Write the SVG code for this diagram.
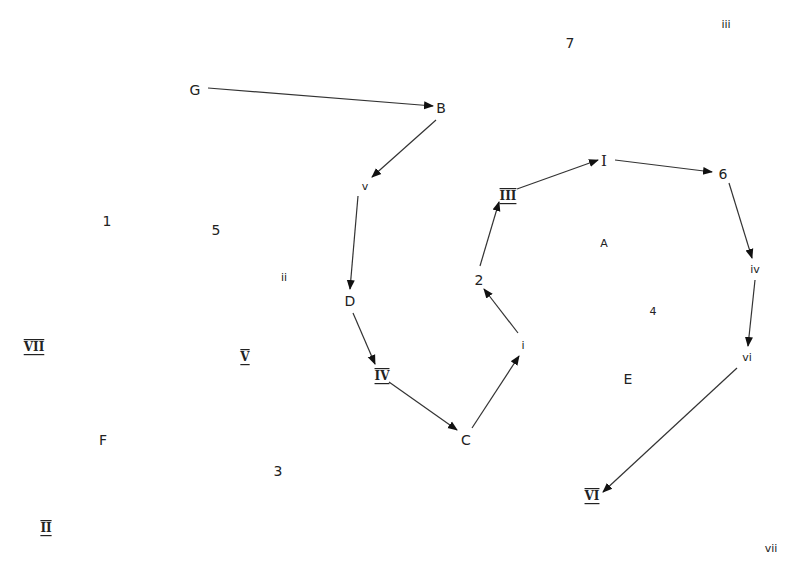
<svg xmlns="http://www.w3.org/2000/svg" width="792" height="569" viewBox="0 0 792 569">
<style>
text{font-family:"DejaVu Sans","Liberation Sans",sans-serif;font-size:14px;fill:#222;text-anchor:middle;dominant-baseline:central}
.r{font-family:"DejaVu Serif","Liberation Serif",serif;font-size:12px;font-weight:bold;text-decoration:underline overline}
.s{font-size:11px}
.e line{stroke:#333;stroke-width:1.2;marker-end:url(#ah)}
</style>
<defs>
<marker id="ah" viewBox="0 0 10 10" refX="9" refY="5" markerWidth="10" markerHeight="10" markerUnits="userSpaceOnUse" orient="auto">
<path d="M0,1 L10,5 L0,9 Z" fill="#111"/>
</marker>
</defs>
<rect width="792" height="569" fill="#fff"/>
<g class="e" id="connectors">
<line x1="208" y1="88" x2="433" y2="106"/>
<line x1="436" y1="120" x2="372" y2="177"/>
<line x1="358" y1="196" x2="350" y2="289"/>
<line x1="353" y1="313" x2="375" y2="364"/>
<line x1="389" y1="382" x2="457" y2="430"/>
<line x1="472" y1="428" x2="519" y2="356"/>
<line x1="518" y1="333" x2="484" y2="289"/>
<line x1="480" y1="266" x2="499" y2="202"/>
<line x1="517" y1="189" x2="598" y2="160"/>
<line x1="615" y1="160" x2="712" y2="172"/>
<line x1="729" y1="183" x2="752" y2="258"/>
<line x1="755" y1="280" x2="748" y2="346"/>
<line x1="737" y1="368" x2="603" y2="492"/>
</g>
<g id="n-G"><text x="195" y="90">G</text></g>
<g id="n-B"><text x="441" y="108">B</text></g>
<g id="n-v"><text x="365" y="186" class="s">v</text></g>
<g id="n-D"><text x="350" y="301">D</text></g>
<g id="n-IV"><text x="382" y="376" class="r">IV</text></g>
<g id="n-C"><text x="466" y="440">C</text></g>
<g id="n-i"><text x="523" y="345" class="s">i</text></g>
<g id="n-2"><text x="479" y="280">2</text></g>
<g id="n-III"><text x="508" y="196" class="r">III</text></g>
<g id="n-I"><text x="604" y="161" class="r" style="text-decoration:none;font-size:15px;font-weight:normal">I</text></g>
<g id="n-6"><text x="723" y="174">6</text></g>
<g id="n-iv"><text x="755" y="269" class="s">iv</text></g>
<g id="n-vi"><text x="747" y="357" class="s">vi</text></g>
<g id="n-VI"><text x="592" y="496" class="r">VI</text></g>
<g id="n-A"><text x="604" y="243" class="s">A</text></g>
<g id="n-4"><text x="653" y="311" class="s">4</text></g>
<g id="n-E"><text x="628" y="379">E</text></g>
<g id="n-7"><text x="570" y="43">7</text></g>
<g id="n-iii"><text x="726" y="24" class="s">iii</text></g>
<g id="n-vii"><text x="771" y="548" class="s">vii</text></g>
<g id="n-1"><text x="107" y="221">1</text></g>
<g id="n-5"><text x="216" y="230">5</text></g>
<g id="n-ii"><text x="284" y="277" class="s">ii</text></g>
<g id="n-VII"><text x="34" y="347" class="r">VII</text></g>
<g id="n-V"><text x="245" y="357" class="r">V</text></g>
<g id="n-F"><text x="103" y="440">F</text></g>
<g id="n-3"><text x="278" y="471">3</text></g>
<g id="n-II"><text x="46" y="528" class="r">II</text></g>
</svg>
